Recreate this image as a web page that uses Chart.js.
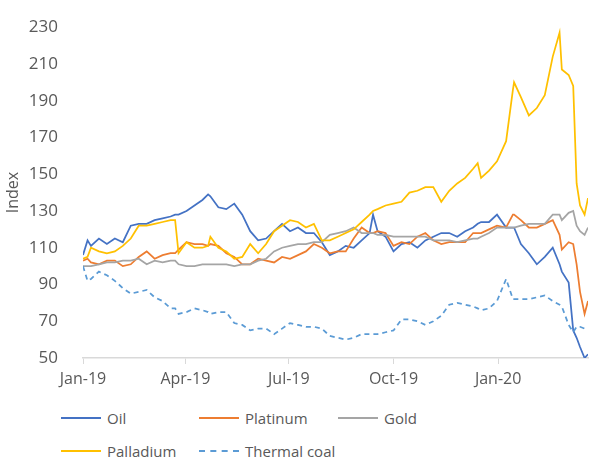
<!DOCTYPE html>
<html>
<head>
<meta charset="utf-8">
<script src="https://cdn.jsdelivr.net/npm/chart.js@4.4.1/dist/chart.umd.min.js"></script>
<style>
  body { margin: 0; background: #fff; font-family: 'Open Sans', sans-serif; }
  #wrap { position: relative; width: 589px; height: 466px; }
  #chartBox { position: absolute; left: 0; top: 0; width: 589px; height: 400px; }
  .legend-item { position: absolute; display: flex; align-items: center; height: 20px; font-size: 15px; color: #595959; white-space: nowrap; }
  .legend-line { width: 40px; height: 0; border-top: 2px solid; margin-right: 6px; }
</style>
</head>
<body>
<div id="wrap">
  <div id="chartBox"><canvas id="chart"></canvas></div>
  <div id="legend"></div>
</div>
<script>
// days since 1 Jan 2019
const days = [0, 4, 7, 14, 21, 28, 35, 42, 49, 56, 63, 70, 77, 81, 84, 91, 98, 105, 110, 112,
  119, 126, 133, 140, 147, 154, 161, 168, 175, 182, 189, 196, 203, 210, 217, 224, 231, 238, 245, 252,
  255, 259, 266, 273, 280, 287, 294, 301, 308, 315, 322, 329, 336, 343, 347, 350, 357, 364, 372, 378,
  379, 385, 392, 399, 406, 413, 419, 421, 427, 431, 434, 437, 441, 444];

const oil = [106, 114, 111, 115, 112, 115, 113, 122, 123, 123, 125, 126, 127, 128, 128, 130, 133, 136, 139, 138,
  132, 131, 134, 128, 119, 114, 115, 119, 123, 119, 121, 118, 118, 113, 106, 108, 111, 110, 114, 118,
  128, 119, 116, 108, 112, 113, 110, 114, 116, 118, 118, 116, 119, 121, 123, 124, 124, 128, 121, 121,
  121, 112, 107, 101, 105, 110, 101, 97, 91, 65, 61, 56, 50, 52];

const platinum = [103, 104, 102, 101, 103, 103, 100, 101, 105, 108, 104, 106, 107, 107, 109, 113, 112, 112, 111, 112,
  111, 107, 105, 101, 101, 104, 103, 102, 105, 104, 106, 108, 112, 110, 107, 108, 108, 115, 121, 118,
  118, 119, 118, 111, 113, 112, 116, 118, 114, 112, 113, 113, 113, 118, 118, 118, 120, 122, 121, 128,
  128, 125, 121, 121, 123, 125, 117, 109, 113, 112, 101, 86, 74, 81];

const gold = [100, 100, 100, 101, 102, 102, 103, 103, 104, 101, 103, 102, 103, 103, 101, 100, 100, 101, 101, 101,
  101, 101, 100, 101, 101, 103, 104, 108, 110, 111, 112, 112, 113, 113, 117, 118, 119, 121, 118, 118,
  118, 117, 117, 116, 116, 116, 116, 116, 114, 114, 114, 113, 114, 115, 115, 116, 118, 121, 121, 121,
  121, 122, 123, 123, 123, 128, 128, 125, 129, 130, 122, 119, 117, 121];

const palladium = [104, 105, 110, 108, 107, 108, 111, 115, 122, 122, 123, 124, 125, 125, 107, 113, 110, 110, 111, 116,
  110, 108, 104, 105, 112, 107, 112, 119, 122, 125, 124, 121, 123, 114, 114, 116, 118, 120, 124, 128,
  130, 131, 133, 134, 135, 140, 141, 143, 143, 135, 141, 145, 148, 153, 156, 148, 152, 157, 168, 196,
  200, 192, 182, 186, 193, 214, 227, 207, 204, 198, 145, 133, 128, 137];

const thermalCoal = [100, 92, 93, 97, 95, 92, 88, 85, 86, 87, 83, 81, 77, 77, 74, 75, 77, 76, 75, 74,
  75, 75, 69, 68, 65, 66, 66, 63, 66, 69, 68, 67, 67, 66, 62, 61, 60, 61, 63, 63,
  63, 63, 64, 65, 71, 71, 70, 68, 70, 73, 79, 80, 79, 78, 77, 76, 77, 81, 93, 82,
  82, 82, 82, 83, 84, 81, 79, 78, 68, 64, 67, 67, 66, 66];

const tickDays = [0, 90, 181, 273, 365];
const tickLabels = ['Jan-19', 'Apr-19', 'Jul-19', 'Oct-19', 'Jan-20'];
const yTicks = [50, 70, 90, 110, 130, 150, 170, 190, 210, 230];

const seriesNames = ['Oil', 'Platinum', 'Gold', 'Palladium', 'Thermal coal'];
const seriesValues = [oil, platinum, gold, palladium, thermalCoal];
const seriesColors = ['#4472C4', '#ED7D31', '#A5A5A5', '#FFC000', '#5B9BD5'];
const seriesDash = [[], [], [], [], [5, 4]];

const textColor = '#595959';
const axisColor = '#D9D9D9';

const datasets = seriesNames.map((name, i) => ({
  label: name,
  data: days.map((d, j) => ({ x: d, y: seriesValues[i][j] })),
  borderColor: seriesColors[i],
  backgroundColor: seriesColors[i],
  borderWidth: 1.75,
  borderDash: seriesDash[i],
  pointRadius: 0,
  tension: 0,
  fill: false,
  order: seriesNames.length - i // later series drawn on top, as in the source
}));

new Chart(document.getElementById('chart'), {
  type: 'line',
  data: { datasets: datasets },
  options: {
    responsive: true,
    maintainAspectRatio: false,
    animation: false,
    layout: { padding: { top: 15, right: 1, left: 0, bottom: 0 } },
    plugins: { legend: { display: false }, tooltip: { enabled: false } },
    scales: {
      x: {
        type: 'linear',
        min: 0,
        max: 444,
        afterBuildTicks: (scale) => { scale.ticks = tickDays.map(v => ({ value: v })); },
        afterFit: (scale) => { scale.height = 42; },
        grid: { drawOnChartArea: false, drawTicks: true, tickLength: 6, color: axisColor },
        border: { display: true, color: axisColor, width: 1.5 },
        ticks: {
          autoSkip: false,
          maxRotation: 0,
          padding: 6,
          color: textColor,
          font: { family: "'Open Sans', sans-serif", size: 16 },
          callback: (v) => tickLabels[tickDays.indexOf(v)]
        }
      },
      y: {
        min: 50,
        max: 230,
        afterBuildTicks: (scale) => { scale.ticks = yTicks.map(v => ({ value: v })); },
        afterFit: (scale) => { scale.width = 83; },
        grid: { display: false },
        border: { display: false },
        title: {
          display: true,
          text: 'Index',
          color: textColor,
          font: { family: "'Open Sans', sans-serif", size: 16 },
          padding: { top: 4, bottom: 0 }
        },
        ticks: {
          padding: 17,
          color: textColor,
          font: { family: "'Open Sans', sans-serif", size: 17 }
        }
      }
    }
  }
});

// custom legend, laid out in three columns like the source
function renderLegend() {
  const box = document.getElementById('legend');
  const cols = [61, 199, 338];
  const rows = [408, 441];
  seriesNames.forEach((name, i) => {
    const item = document.createElement('div');
    item.className = 'legend-item';
    item.style.left = cols[i % 3] + 'px';
    item.style.top = rows[Math.floor(i / 3)] + 'px';
    const style = seriesDash[i].length ? 'dashed' : 'solid';
    item.innerHTML = `<span class="legend-line" style="border-top-style:${style};border-color:${seriesColors[i]}"></span><span>${name}</span>`;
    box.appendChild(item);
  });
}
renderLegend();
</script>
</body>
</html>
